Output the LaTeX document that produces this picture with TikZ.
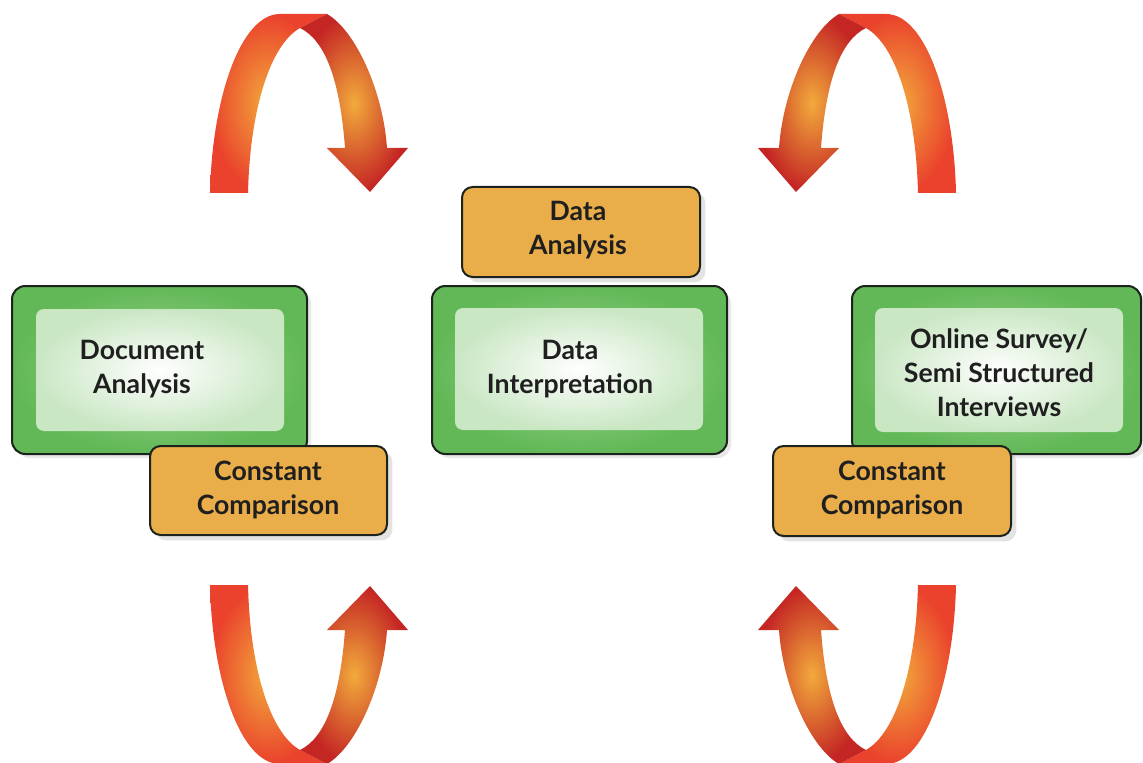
\documentclass[tikz,border=0pt]{standalone}
\usepackage{fontspec}
\setmainfont{Lato}
\usetikzlibrary{shadows}
\definecolor{loopred}{RGB}{234,66,44}
\definecolor{loopdark}{RGB}{196,38,36}
\definecolor{looporange}{RGB}{242,170,60}
\definecolor{boxgreen}{RGB}{98,184,86}
\definecolor{glowgreen}{RGB}{160,212,148}
\definecolor{panelgreen}{RGB}{202,231,196}
\definecolor{boxorange}{RGB}{233,173,74}
\definecolor{edgegray}{RGB}{28,34,28}

% one curled arrow, drawn in pixel units (top-left copy)
\newcommand{\cyclearrow}{%
  % front half of the ribbon
  \shade [inner color=looporange, outer color=loopred] (210,193) .. controls (212,100) and (240,14) .. (280,14) -- (327,14) -- (300,28) .. controls (270,45) and (250,110) .. (248,193) -- cycle;
  % back half with the head
  \shade [inner color=looporange, outer color=loopdark] (327,14) .. controls (355,30) and (383,90) .. (387,148) -- (408,148) -- (370,192) -- (327,148) -- (345,148) .. controls (340,80) and (325,40) .. (300,28) -- cycle;
}

\tikzset{
  greenbox/.style={draw=edgegray, line width=1.5pt, inner color=glowgreen, outer color=boxgreen, rounded corners=10pt, drop shadow={shadow xshift=3pt, shadow yshift=-3pt, opacity=0.18}},
  panel/.style={inner color=white, outer color=panelgreen, rounded corners=6pt},
  orangebox/.style={draw=edgegray, line width=1.5pt, fill=boxorange, rounded corners=8pt, drop shadow={shadow xshift=4pt, shadow yshift=-4pt, opacity=0.22}},
  boxtext/.style={align=center, inner sep=0pt, text=black!88, font=\fontsize{20}{25.5}\selectfont\bfseries}
}

\begin{document}
\begin{tikzpicture}[x=0.75pt,y=0.75pt,yscale=-1,xscale=1]
\clip (0,0) rectangle (1143,763);

%Curled arrows
\cyclearrow
\begin{scope}[shift={(1166,0)}, xscale=-1]
\cyclearrow
\end{scope}
\begin{scope}[shift={(0,778)}, yscale=-1]
\cyclearrow
\end{scope}
\begin{scope}[shift={(1166,778)}, xscale=-1, yscale=-1]
\cyclearrow
\end{scope}

%Left group
\shade [greenbox] (12,286) rectangle (307,454);
\shade [panel] (36,309) rectangle (284,431);
\node [boxtext] (docanalysis) at (142,369) {Document\\Analysis};
\draw [orangebox] (150,446) rectangle (387,535);
\node [boxtext] (ccleft) at (268,490) {Constant\\Comparison};

%Middle group
\draw [orangebox] (462,187) rectangle (700,277);
\node [boxtext] (dataanalysis) at (578,230) {Data\\Analysis};
\shade [greenbox] (432,286) rectangle (727,454);
\shade [panel] (455,308) rectangle (703,430);
\node [boxtext] (datainterp) at (570,369) {Data\\Interpretation};

%Right group
\shade [greenbox] (852,286) rectangle (1141,454);
\shade [panel] (875,308) rectangle (1123,432);
\node [boxtext] (survey) at (999,373) {Online Survey/\\Semi Structured\\Interviews};
\draw [orangebox] (773,446) rectangle (1011,536);
\node [boxtext] (ccright) at (892,490) {Constant\\Comparison};

\end{tikzpicture}
\end{document}
